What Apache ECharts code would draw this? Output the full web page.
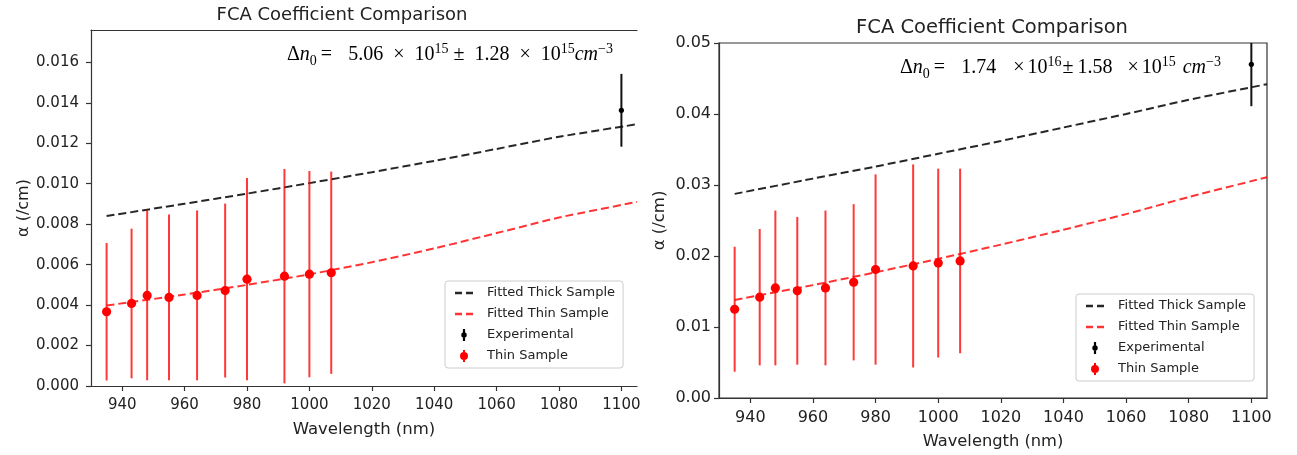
<!DOCTYPE html>
<html>
<head>
<meta charset="utf-8">
<script src="https://cdn.jsdelivr.net/npm/echarts@6/dist/echarts.min.js"></script>
<style>
html,body{margin:0;padding:0;background:#ffffff;}
#c{width:1297px;height:455px;}
</style>
</head>
<body>
<div id="c"></div>
<script>
// ---------- data ----------
const xTicks = [940, 960, 980, 1000, 1020, 1040, 1060, 1080, 1100];
const leftYTicks = [0, 0.002, 0.004, 0.006, 0.008, 0.010, 0.012, 0.014, 0.016];
const rightYTicks = [0, 0.01, 0.02, 0.03, 0.04, 0.05];

const chartTitle = 'FCA Coefficient Comparison';
const xAxisName = 'Wavelength (nm)';
const yAxisName = 'α (/cm)';
const legendNames = ['Fitted Thick Sample', 'Fitted Thin Sample', 'Experimental', 'Thin Sample'];

const leftNote = '{r|Δ}{i|n}{sub|0}{eq|=}{r|5.06}{x1|×}{r|10}{sup|15}{pm|±}{r|1.28}{x1|×}{r|10}{sup|15}{i|cm}{sup|−3}';
const rightNote = '{r|Δ}{i|n}{sub|0}{eq|=}{r|1.74}{x2|×}{r|10}{sup|16}{pm2|±}{r|1.58}{x3|×}{r|10}{sup|15}{cm|cm}{sup|−3}';

// thin sample measurements
const thinWavelengths = [935, 943, 948, 955, 964, 973, 980, 992, 1000, 1007];
const thinAlphaLeft = [0.00367, 0.00408, 0.00448, 0.00438, 0.00448, 0.00472, 0.00528, 0.00543, 0.00553, 0.00560];
const thinErrLeft   = [0.0034, 0.0037, 0.0042, 0.0041, 0.0042, 0.0043, 0.0050, 0.0053, 0.0051, 0.0050];
const thinAlphaRight = [0.0125, 0.0142, 0.0155, 0.0151, 0.0155, 0.0163, 0.0181, 0.0186, 0.0190, 0.0193];
const thinErrRight   = [0.0088, 0.0096, 0.0109, 0.0104, 0.0109, 0.0110, 0.0134, 0.0143, 0.0133, 0.0130];

// experimental (thick sample) point
const expWavelengths = [1100];
const expAlphaLeft = [0.01363];
const expErrLeft = [0.0018];
const expAlphaRight = [0.0470];
const expErrRight = [0.0059];

// fitted curves
const fitWavelengths = [935, 960, 980, 1000, 1020, 1040, 1060, 1080, 1105];
const thickFitLeft  = [0.00840, 0.00901, 0.00951, 0.01003, 0.01057, 0.01113, 0.01172, 0.01232, 0.01294];
const thinFitLeft   = [0.00398, 0.00452, 0.00500, 0.00552, 0.00612, 0.00680, 0.00756, 0.00833, 0.00910];
const thickFitRight = [0.02875, 0.0309, 0.0326, 0.0344, 0.0362, 0.0381, 0.0400, 0.0420, 0.0442];
const thinFitRight  = [0.0138, 0.0159, 0.0177, 0.0196, 0.0216, 0.0237, 0.0259, 0.0283, 0.0311];

// ---------- styling / helpers ----------
const TXT = '#222';
const AX = '#333';
const BLACK_LINE = 'rgba(0,0,0,0.85)';
const RED_LINE = 'rgba(255,0,0,0.8)';
const RED = '#ff0000';

const pairs = (xs, ys) => xs.map((x, i) => [x, ys[i]]);

function xAxisCfg(grid, fs, nfs, margin, gap) {
  return {
    gridIndex: grid, type: 'value', min: 930, max: 1105,
    name: xAxisName, nameLocation: 'middle', nameGap: gap,
    nameTextStyle: {color: TXT, fontSize: nfs, fontFamily: 'DejaVu Sans'},
    axisLine: {show: true, onZero: false, lineStyle: {color: AX, width: 1.2}},
    axisTick: {show: true, length: 5, customValues: xTicks, lineStyle: {color: AX, width: 1.2}},
    axisLabel: {customValues: xTicks, color: TXT, fontSize: fs, fontFamily: 'DejaVu Sans', margin: margin,
      formatter: v => String(Math.round(v))},
    splitLine: {show: false}
  };
}
function yAxisCfg(grid, max, ticks, dec, fs, nfs, margin, gap) {
  return {
    gridIndex: grid, type: 'value', min: 0, max: max,
    name: yAxisName, nameLocation: 'middle', nameGap: gap,
    nameTextStyle: {color: TXT, fontSize: nfs, fontFamily: 'DejaVu Sans'},
    axisLine: {show: true, onZero: false, lineStyle: {color: AX, width: 1.2}},
    axisTick: {show: true, length: 5, customValues: ticks, lineStyle: {color: AX, width: 1.2}},
    axisLabel: {customValues: ticks, color: TXT, fontSize: fs, fontFamily: 'DejaVu Sans', margin: margin,
      formatter: v => Number(v).toFixed(dec)},
    splitLine: {show: false}
  };
}

function fitLine(name, xs, ys, xi, yi, color) {
  return {
    type: 'line', name, xAxisIndex: xi, yAxisIndex: yi, data: pairs(xs, ys),
    showSymbol: false, symbol: 'none', smooth: 0.2, z: 2, silent: true,
    lineStyle: {color, width: 2, type: [8, 4]},
    itemStyle: {color}
  };
}

function errSeries(name, xs, ys, es, xi, yi, barColor, dotColor, r, z) {
  return {
    type: 'custom', name, xAxisIndex: xi, yAxisIndex: yi, z, silent: true,
    itemStyle: {color: dotColor},
    encode: {x: 0, y: 1},
    data: xs.map((x, i) => [x, ys[i], es[i]]),
    renderItem: function (params, api) {
      const x = api.value(0), y = api.value(1), e = api.value(2);
      const c = api.coord([x, y]);
      const hi = api.coord([x, y + e]);
      const lo = api.coord([x, y - e]);
      const cs = params.coordSys;
      const top = Math.max(hi[1], cs.y);
      const bot = Math.min(lo[1], cs.y + cs.height);
      return {
        type: 'group',
        children: [
          {type: 'line', shape: {x1: c[0], y1: top, x2: c[0], y2: bot},
           style: {stroke: barColor, lineWidth: 2}},
          {type: 'circle', shape: {cx: c[0], cy: c[1], r: r}, style: {fill: dotColor}}
        ]
      };
    }
  };
}

const dashIcon = 'path://M0,0h7v2.5h-7z M11,0h7v2.5h-7z';
const expIcon = 'path://M1.5,0h2v11h-2z M0,5.5a2.5,2.5 0 1 1 5,0a2.5,2.5 0 1 1 -5,0z';
const thinIcon = 'path://M3,0h2v12h-2z M0,6a4,4 0 1 1 8,0a4,4 0 1 1 -8,0z';
const legendIcons = [dashIcon, dashIcon, expIcon, thinIcon];

function legendCfg(left, top) {
  return {
    left, top, orient: 'vertical', selectedMode: false,
    data: legendNames.map((n, i) => ({name: n, icon: legendIcons[i]})),
    itemWidth: 18, itemHeight: 12, itemGap: 7,
    itemStyle: {borderWidth: 0},
    padding: [5, 8, 5, 10],
    backgroundColor: 'rgba(255,255,255,0.85)',
    borderColor: '#cccccc', borderWidth: 1, borderRadius: 3,
    textStyle: {color: TXT, fontSize: 13, fontFamily: 'DejaVu Sans', lineHeight: 14, padding: [0, 0, 0, 9]}
  };
}

function noteRich(fs) {
  const base = {fontFamily: 'Liberation Serif', fontSize: fs, lineHeight: 26, fill: '#000'};
  const small = {fontFamily: 'Liberation Serif', fontSize: fs - 6, lineHeight: 14, fill: '#000'};
  return {
    r:   base,
    i:   Object.assign({}, base, {fontStyle: 'italic'}),
    cm:  Object.assign({}, base, {fontStyle: 'italic', padding: [0, 0, 0, 7]}),
    eq:  Object.assign({}, base, {padding: [0, 16, 0, 4]}),
    x1:  Object.assign({}, base, {padding: [0, 10, 0, 10]}),
    x2:  Object.assign({}, base, {padding: [0, 3, 0, 17]}),
    x3:  Object.assign({}, base, {padding: [0, 3, 0, 15]}),
    pm:  Object.assign({}, base, {padding: [0, 10, 0, 5]}),
    pm2: Object.assign({}, base, {padding: [0, 4, 0, 1]}),
    sup: Object.assign({}, small, {verticalAlign: 'top'}),
    sub: Object.assign({}, small, {verticalAlign: 'bottom'})
  };
}

const chart = echarts.init(document.getElementById('c'), null, {renderer: 'canvas'});
chart.setOption({
  animation: false,
  backgroundColor: '#ffffff',
  title: [
    {text: chartTitle, left: 342, top: 6, textAlign: 'center', padding: 0,
     textStyle: {color: TXT, fontSize: 18, fontWeight: 'normal', fontFamily: 'DejaVu Sans'}},
    {text: chartTitle, left: 992, top: 18, textAlign: 'center', padding: 0,
     textStyle: {color: TXT, fontSize: 19.5, fontWeight: 'normal', fontFamily: 'DejaVu Sans'}}
  ],
  grid: [
    {left: 91, top: 30, width: 546, height: 356, containLabel: false},
    {left: 719, top: 43, width: 548, height: 357, containLabel: false,
     show: true, borderColor: AX, borderWidth: 1.2, backgroundColor: 'transparent'}
  ],
  xAxis: [
    xAxisCfg(0, 15, 16.5, 12, 35),
    {gridIndex: 0, type: 'value', position: 'top', min: 930, max: 1105,
     axisLine: {show: true, onZero: false, lineStyle: {color: AX, width: 1.2}},
     axisTick: {show: false}, axisLabel: {show: false}, splitLine: {show: false}},
    xAxisCfg(1, 16, 16.3, 12, 36)
  ],
  yAxis: [
    yAxisCfg(0, 0.0176, leftYTicks, 3, 15, 16, 12, 58),
    yAxisCfg(1, 0.05, rightYTicks, 2, 16, 16.5, 8, 51)
  ],
  legend: [legendCfg(445, 281), legendCfg(1076, 294)],
  graphic: [
    {type: 'text', left: 287, top: 42, silent: true,
     style: {text: leftNote, rich: noteRich(20)}},
    {type: 'text', left: 900, top: 55, silent: true,
     style: {text: rightNote, rich: noteRich(20)}}
  ],
  series: [
    fitLine('Fitted Thick Sample', fitWavelengths, thickFitLeft, 0, 0, BLACK_LINE),
    fitLine('Fitted Thin Sample', fitWavelengths, thinFitLeft, 0, 0, RED_LINE),
    errSeries('Experimental', expWavelengths, expAlphaLeft, expErrLeft, 0, 0, '#111111', '#000000', 2.6, 4),
    errSeries('Thin Sample', thinWavelengths, thinAlphaLeft, thinErrLeft, 0, 0, 'rgba(255,0,0,0.78)', RED, 4.6, 3),

    fitLine('Fitted Thick Sample', fitWavelengths, thickFitRight, 2, 1, BLACK_LINE),
    fitLine('Fitted Thin Sample', fitWavelengths, thinFitRight, 2, 1, RED_LINE),
    errSeries('Experimental', expWavelengths, expAlphaRight, expErrRight, 2, 1, '#111111', '#000000', 2.6, 4),
    errSeries('Thin Sample', thinWavelengths, thinAlphaRight, thinErrRight, 2, 1, 'rgba(255,0,0,0.78)', RED, 4.6, 3)
  ]
});
</script>
</body>
</html>
